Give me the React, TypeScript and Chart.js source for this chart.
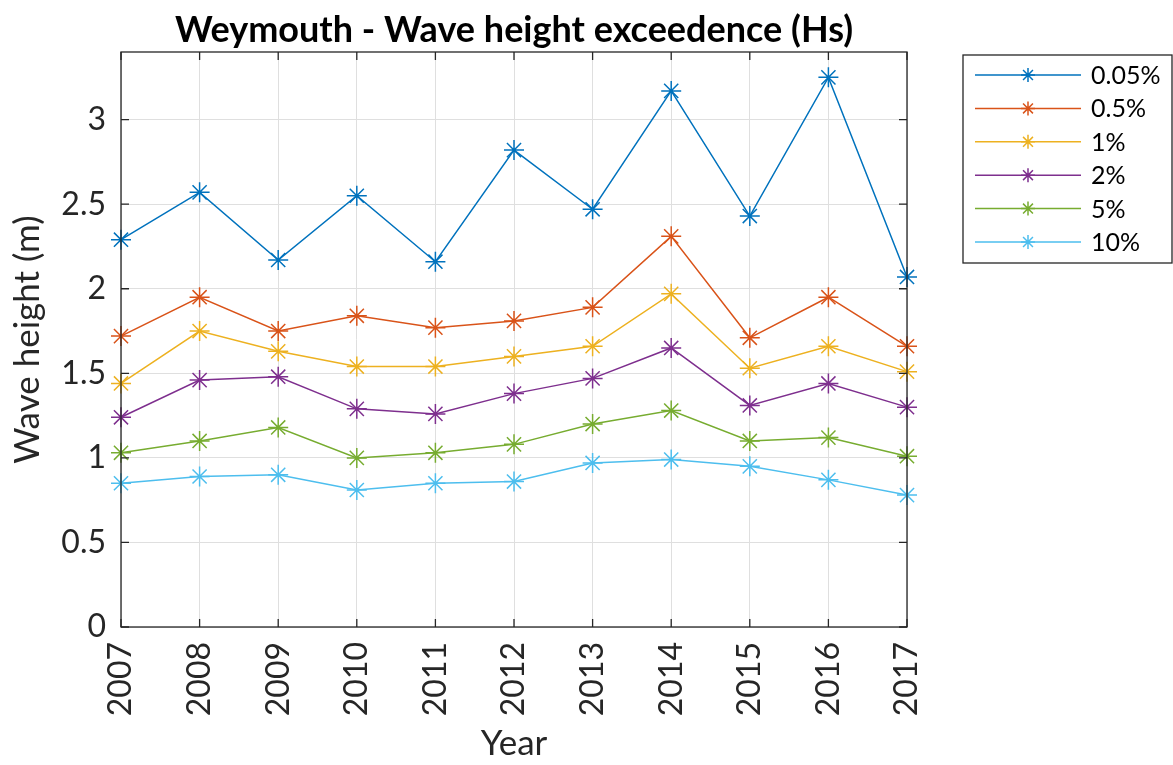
import React, { useEffect, useRef } from "react";
import { Chart, registerables } from "chart.js";

Chart.register(...registerables);

const years = ["2007", "2008", "2009", "2010", "2011", "2012", "2013", "2014", "2015", "2016", "2017"];
const s005 = [2.29, 2.57, 2.17, 2.55, 2.16, 2.82, 2.47, 3.17, 2.43, 3.25, 2.07];
const s05 = [1.72, 1.95, 1.75, 1.84, 1.77, 1.81, 1.89, 2.31, 1.71, 1.95, 1.66];
const s1 = [1.44, 1.75, 1.63, 1.54, 1.54, 1.6, 1.66, 1.97, 1.53, 1.66, 1.51];
const s2 = [1.24, 1.46, 1.48, 1.29, 1.26, 1.38, 1.47, 1.65, 1.31, 1.44, 1.3];
const s5 = [1.03, 1.1, 1.18, 1.0, 1.03, 1.08, 1.2, 1.28, 1.1, 1.12, 1.01];
const s10 = [0.85, 0.89, 0.9, 0.81, 0.85, 0.86, 0.97, 0.99, 0.95, 0.87, 0.78];
const seriesLabels = ["0.05%", "0.5%", "1%", "2%", "5%", "10%"];
const seriesData = [s005, s05, s1, s2, s5, s10];
const seriesColors = ["#0072BD", "#D95319", "#EDB120", "#7E2F8E", "#77AC30", "#4DBEEE"];
const titleText = "Weymouth - Wave height exceedence (Hs)";

const FONT = "Lato, 'Open Sans', sans-serif";
const AXIS = "#262626";

function drawStar(ctx: CanvasRenderingContext2D, x: number, y: number, r: number) {
  ctx.beginPath();
  for (let i = 0; i < 4; i++) {
    const a = (i * Math.PI) / 4;
    ctx.moveTo(x - r * Math.cos(a), y - r * Math.sin(a));
    ctx.lineTo(x + r * Math.cos(a), y + r * Math.sin(a));
  }
  ctx.stroke();
}

const boxPlugin = {
  id: "matlabBox",
  afterDraw(chart: any) {
    const { ctx, chartArea } = chart;
    const { left, right, top, bottom } = chartArea;
    ctx.save();
    ctx.strokeStyle = AXIS;
    ctx.lineWidth = 1.3;
    ctx.strokeRect(left, top, right - left, bottom - top);
    const tl = 8;
    const xs = chart.scales.x;
    ctx.beginPath();
    for (let i = 0; i < years.length; i++) {
      const px = xs.getPixelForValue(i);
      ctx.moveTo(px, bottom);
      ctx.lineTo(px, bottom - tl);
      ctx.moveTo(px, top);
      ctx.lineTo(px, top + tl);
    }
    const ys = chart.scales.y;
    for (const t of ys.ticks) {
      const py = ys.getPixelForValue(t.value);
      ctx.moveTo(left, py);
      ctx.lineTo(left + tl, py);
      ctx.moveTo(right, py);
      ctx.lineTo(right - tl, py);
    }
    ctx.stroke();

    // title centred over the axes
    ctx.fillStyle = "#000000";
    ctx.font = `bold 36px ${FONT}`;
    ctx.textAlign = "center";
    ctx.textBaseline = "middle";
    ctx.fillText(titleText, (left + right) / 2, top - 22);

    // legend
    const bx = right + 56;
    const by = top + 3;
    const bw = 209;
    const bh = 208;
    ctx.fillStyle = "#ffffff";
    ctx.fillRect(bx, by, bw, bh);
    ctx.strokeStyle = AXIS;
    ctx.lineWidth = 1.3;
    ctx.strokeRect(bx, by, bw, bh);
    ctx.font = `25px ${FONT}`;
    ctx.textBaseline = "middle";
    ctx.textAlign = "left";
    for (let i = 0; i < seriesLabels.length; i++) {
      const ry = by + 20 + i * 33.4;
      ctx.strokeStyle = seriesColors[i];
      ctx.lineWidth = 1.5;
      ctx.beginPath();
      ctx.moveTo(bx + 12, ry);
      ctx.lineTo(bx + 118, ry);
      ctx.stroke();
      drawStar(ctx, bx + 65, ry, 7);
      ctx.fillStyle = "#000000";
      ctx.fillText(seriesLabels[i], bx + 128, ry + 1);
    }
    ctx.restore();
  },
};

export default function App() {
  const ref = useRef<HTMLCanvasElement>(null);
  useEffect(() => {
    if (!ref.current) return;
    const chart = new Chart(ref.current, {
      type: "line",
      data: {
        labels: years,
        datasets: seriesData.map((d, i) => ({
          label: seriesLabels[i],
          data: d,
          borderColor: seriesColors[i],
          backgroundColor: seriesColors[i],
          borderWidth: 1.5,
          pointStyle: "star",
          pointRadius: 10,
          pointBorderWidth: 1.5,
          pointBorderColor: seriesColors[i],
          tension: 0,
          fill: false,
        })),
      },
      options: {
        responsive: false,
        animation: false,
        layout: { padding: { left: 0, right: 266, top: 52, bottom: 0 } },
        plugins: {
          legend: { display: false },
          tooltip: { enabled: false },
          title: { display: false },
        },
        scales: {
          x: {
            type: "category",
            offset: false,
            grid: { color: "#dfdfdf", lineWidth: 1, drawTicks: false },
            border: { display: false },
            ticks: {
              color: AXIS,
              font: { family: FONT, size: 32 },
              minRotation: 90,
              maxRotation: 90,
              padding: 15,
              autoSkip: false,
            },
            title: {
              display: true,
              text: "Year",
              color: AXIS,
              font: { family: FONT, size: 35 },
              padding: { top: 0, bottom: 0 },
            },
            afterFit(scale: any) {
              scale.height = 138;
            },
          },
          y: {
            min: 0,
            max: 3.4,
            grid: { color: "#dfdfdf", lineWidth: 1, drawTicks: false },
            border: { display: false },
            ticks: {
              stepSize: 0.5,
              includeBounds: false,
              color: AXIS,
              font: { family: FONT, size: 32 },
              padding: 15,
              callback: (v: any) => String(v),
            },
            title: {
              display: true,
              text: "Wave height (m)",
              color: AXIS,
              font: { family: FONT, size: 35 },
              padding: { top: 7, bottom: 0 },
            },
            afterFit(scale: any) {
              scale.width = 121;
            },
          },
        },
      },
      plugins: [boxPlugin],
    } as any);
    return () => chart.destroy();
  }, []);
  return (
    <div style={{ position: "fixed", left: 0, top: 0, width: 1173, height: 765, background: "#fff" }}>
      <canvas ref={ref} width={1173} height={765} style={{ width: 1173, height: 765 }} />
    </div>
  );
}
